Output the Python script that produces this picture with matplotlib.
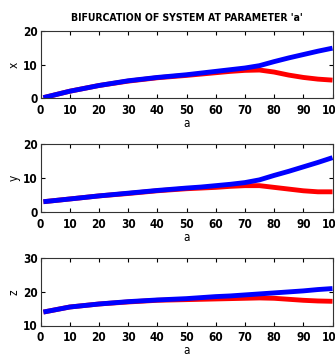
import matplotlib
matplotlib.use("Agg")
import matplotlib.pyplot as plt

a_vals = [1, 10, 20, 30, 40, 50, 55, 60, 65, 70, 75, 80, 85, 90, 95, 100]

x_blue = [0.2, 2.1, 3.8, 5.2, 6.2, 7.0, 7.5, 8.0, 8.5, 9.0, 9.7, 10.9, 12.0, 13.0, 14.0, 14.9]
x_red = [0.2, 2.1, 3.8, 5.1, 6.1, 6.8, 7.2, 7.6, 8.0, 8.3, 8.4, 7.8, 6.9, 6.2, 5.7, 5.4]

y_blue = [3.1, 3.9, 4.8, 5.6, 6.4, 7.1, 7.4, 7.8, 8.2, 8.7, 9.5, 10.8, 12.0, 13.3, 14.6, 16.0]
y_red = [3.1, 3.9, 4.8, 5.5, 6.3, 6.9, 7.1, 7.3, 7.6, 7.8, 7.8, 7.3, 6.8, 6.3, 6.0, 6.0]

z_blue = [14.0, 15.5, 16.4, 17.1, 17.6, 18.0, 18.3, 18.6, 18.8, 19.1, 19.4, 19.7, 20.0, 20.3, 20.7, 21.0]
z_red = [14.0, 15.5, 16.4, 17.0, 17.5, 17.7, 17.8, 17.9, 18.0, 18.1, 18.2, 18.1, 17.8, 17.5, 17.3, 17.2]

panels = [
    ("x", x_red, x_blue, [0, 10, 20]),
    ("y", y_red, y_blue, [0, 10, 20]),
    ("z", z_red, z_blue, [10, 20, 30]),
]

plt.rcParams["font.family"] = ["DejaVu Sans"]
plt.rcParams["font.stretch"] = "condensed"
plt.rcParams["font.weight"] = "bold"

fig = plt.figure(figsize=(3.35, 3.56), dpi=100)
W, H = 335.0, 356.0
boxes = [(31, 98.3), (144, 212.3), (258.3, 325.5)]
left, right = 40.5, 332.5

for i, (name, red, blue, yt) in enumerate(panels):
    top, bot = boxes[i]
    ax = fig.add_axes([left / W, 1 - bot / H, (right - left) / W, (bot - top) / H])
    ax.plot(a_vals, red, color="#ff0000", lw=3.5, solid_capstyle="butt")
    ax.plot(a_vals, blue, color="#0000ff", lw=3.5, solid_capstyle="butt")
    ax.set_xlim(0, 100)
    ax.set_ylim(yt[0], yt[-1])
    ax.set_xticks(range(0, 101, 10))
    ax.set_yticks(yt)
    ax.tick_params(direction="in", top=True, right=True, length=3,
                   labelsize=8.5, pad=2, width=0.8)
    ax.tick_params(axis="x", pad=4)
    for s in ax.spines.values():
        s.set_linewidth(0.8)
        s.set_color("#333333")
    ax.set_xlabel("a", fontsize=8.5, labelpad=0)
    ax.set_ylabel(name, fontsize=8.5, labelpad=2)
    if i == 0:
        ax.set_title("BIFURCATION OF SYSTEM AT PARAMETER 'a'",
                     fontsize=7.5, fontweight="bold", pad=7)

fig.savefig("out.png", dpi=100)
